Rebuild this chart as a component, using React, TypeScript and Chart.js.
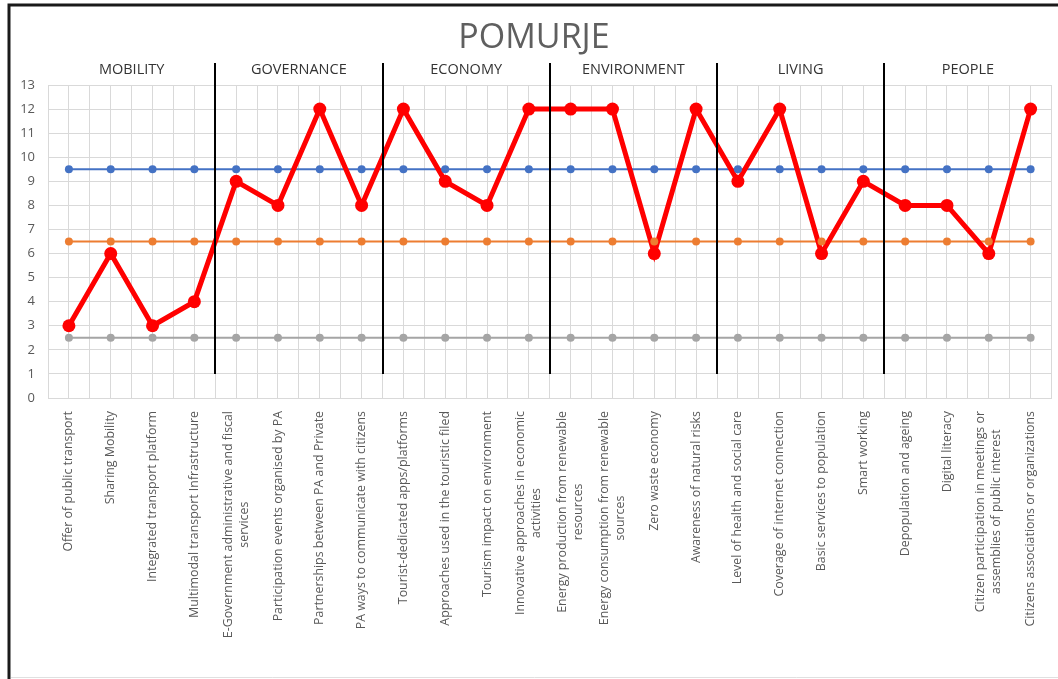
import React, { useEffect, useRef } from 'react';
import { Chart, registerables } from 'chart.js';

Chart.register(...registerables);

const chartTitle = 'POMURJE';

const categories: string[][] = [
  ['Offer of public transport'],
  ['Sharing Mobility'],
  ['Integrated transport platform'],
  ['Multimodal transport Infrastructure'],
  ['E-Government administrative and fiscal', 'services'],
  ['Participation events organised by PA'],
  ['Partnerships between PA and Private'],
  ['PA ways to communicate with citizens'],
  ['Tourist-dedicated apps/platforms'],
  ['Approaches used in the touristic filed'],
  ['Tourism impact on environment'],
  ['Innovative approaches in economic', 'activities'],
  ['Energy production from renewable', 'resources'],
  ['Energy consumption from renewable', 'sources'],
  ['Zero waste economy'],
  ['Awareness of natural risks'],
  ['Level of health and social care'],
  ['Coverage of internet connection'],
  ['Basic services to population'],
  ['Smart working'],
  ['Depopulation and ageing'],
  ['Digital literacy'],
  ['Citizen participation in meetings or', 'assemblies of public interest'],
  ['Citizens associations or organizations'],
];

const groups = ['MOBILITY', 'GOVERNANCE', 'ECONOMY', 'ENVIRONMENT', 'LIVING', 'PEOPLE'];
const groupSize = 4;

const scores = [3, 6, 3, 4, 9, 8, 12, 8, 12, 9, 8, 12, 12, 12, 6, 12, 9, 12, 6, 9, 8, 8, 6, 12];
const upperLevel = [9.5, 9.5, 9.5, 9.5, 9.5, 9.5, 9.5, 9.5, 9.5, 9.5, 9.5, 9.5, 9.5, 9.5, 9.5, 9.5, 9.5, 9.5, 9.5, 9.5, 9.5, 9.5, 9.5, 9.5];
const middleLevel = [6.5, 6.5, 6.5, 6.5, 6.5, 6.5, 6.5, 6.5, 6.5, 6.5, 6.5, 6.5, 6.5, 6.5, 6.5, 6.5, 6.5, 6.5, 6.5, 6.5, 6.5, 6.5, 6.5, 6.5];
const lowerLevel = [2.5, 2.5, 2.5, 2.5, 2.5, 2.5, 2.5, 2.5, 2.5, 2.5, 2.5, 2.5, 2.5, 2.5, 2.5, 2.5, 2.5, 2.5, 2.5, 2.5, 2.5, 2.5, 2.5, 2.5];

const yMin = 0;
const yMax = 13;

const FONT = '"Open Sans", "DejaVu Sans", sans-serif';

const toPoints = (arr: number[]) => arr.map((v, i) => ({ x: i, y: v }));

const decorPlugin = {
  id: 'decor',
  beforeDraw(chart: any) {
    const { ctx, width, height } = chart;
    ctx.save();
    ctx.fillStyle = '#ffffff';
    ctx.fillRect(0, 0, width, height);
    ctx.restore();
  },
  afterDraw(chart: any) {
    const { ctx, chartArea, scales, width } = chart;
    const x = scales.x;
    const y = scales.y;
    ctx.save();

    // frame
    ctx.strokeStyle = '#1a1a1a';
    ctx.lineWidth = 3;
    ctx.beginPath();
    ctx.moveTo(9, chart.height);
    ctx.lineTo(9, 5);
    ctx.lineTo(width, 5);
    ctx.stroke();
    ctx.strokeStyle = '#e0e0e0';
    ctx.lineWidth = 1;
    ctx.beginPath();
    ctx.moveTo(11, chart.height - 1.5);
    ctx.lineTo(width, chart.height - 1.5);
    ctx.stroke();

    // title
    ctx.fillStyle = '#5f5f5f';
    ctx.font = `34px ${FONT}`;
    ctx.textAlign = 'center';
    ctx.textBaseline = 'middle';
    ctx.fillText(chartTitle, width / 2 + 5, 38);

    // separators
    ctx.strokeStyle = '#000000';
    ctx.lineWidth = 2;
    for (let g = 1; g < groups.length; g++) {
      const px = Math.round(x.getPixelForValue(g * groupSize - 0.5));
      ctx.beginPath();
      ctx.moveTo(px, y.getPixelForValue(1));
      ctx.lineTo(px, chartArea.top - 22);
      ctx.stroke();
    }

    // group labels
    ctx.fillStyle = '#333333';
    ctx.font = `14.5px ${FONT}`;
    ctx.textAlign = 'center';
    ctx.textBaseline = 'middle';
    groups.forEach((g, i) => {
      const px = x.getPixelForValue(i * groupSize + (groupSize - 1) / 2);
      ctx.fillText(g, px, chartArea.top - 15);
    });

    // category labels (rotated)
    ctx.fillStyle = '#595959';
    ctx.font = `12.4px ${FONT}`;
    const lineH = 16;
    categories.forEach((lines, i) => {
      const px = x.getPixelForValue(i);
      const maxW = Math.max(...lines.map((l) => ctx.measureText(l).width));
      ctx.save();
      ctx.translate(px, chartArea.bottom + 13);
      ctx.rotate(-Math.PI / 2);
      ctx.textAlign = 'center';
      ctx.textBaseline = 'middle';
      lines.forEach((l, j) => {
        const off = (j - (lines.length - 1) / 2) * lineH;
        ctx.fillText(l, -maxW / 2, off);
      });
      ctx.restore();
    });

    ctx.restore();
  },
};

export default function App() {
  const canvasRef = useRef<HTMLCanvasElement | null>(null);

  useEffect(() => {
    document.body.style.margin = '0';
    const canvas = canvasRef.current;
    if (!canvas) return;

    const lineOnly = (data: number[], color: string) => ({
      data: toPoints(data),
      borderColor: color,
      backgroundColor: color,
      borderWidth: 2,
      pointRadius: 0,
      tension: 0,
      order: 5,
    });
    const pointsOnly = (data: number[], color: string) => ({
      data: toPoints(data),
      borderColor: color,
      backgroundColor: color,
      showLine: false,
      pointRadius: 4,
      pointBorderWidth: 0,
      pointBackgroundColor: color,
      order: 1,
    });

    const chart = new Chart(canvas, {
      type: 'line',
      data: {
        datasets: [
          lineOnly(upperLevel, '#4472C4'),
          lineOnly(middleLevel, '#ED7D31'),
          lineOnly(lowerLevel, '#A5A5A5'),
          {
            data: toPoints(scores),
            borderColor: '#FF0000',
            backgroundColor: '#FF0000',
            borderWidth: 5,
            pointRadius: 6.5,
            pointBorderWidth: 0,
            pointBackgroundColor: '#FF0000',
            tension: 0,
            order: 3,
          },
          pointsOnly(upperLevel, '#4472C4'),
          pointsOnly(middleLevel, '#ED7D31'),
          pointsOnly(lowerLevel, '#A5A5A5'),
        ] as any,
      },
      options: {
        animation: false,
        responsive: false,
        maintainAspectRatio: false,
        layout: { padding: { top: 85, right: 2, bottom: 0, left: 0 } },
        plugins: {
          legend: { display: false },
          title: { display: false },
          tooltip: { enabled: false },
        },
        scales: {
          x: {
            type: 'linear',
            min: -0.5,
            max: 23.5,
            ticks: { display: false, stepSize: 0.5, maxTicksLimit: 200 },
            grid: { color: '#d9d9d9', drawTicks: false, lineWidth: 1 },
            border: { color: '#d9d9d9' },
            afterFit: (scale: any) => {
              scale.height = 281;
            },
          },
          y: {
            min: yMin,
            max: yMax,
            ticks: {
              stepSize: 1,
              color: '#595959',
              font: { family: FONT, size: 13 },
              padding: 13,
            },
            grid: { color: '#d9d9d9', drawTicks: false },
            border: { color: '#d9d9d9' },
            afterFit: (scale: any) => {
              scale.width = 48;
            },
          },
        },
      } as any,
      plugins: [decorPlugin],
    });

    return () => chart.destroy();
  }, []);

  return (
    <div style={{ width: 1058, height: 679 }}>
      <canvas ref={canvasRef} width={1058} height={679} style={{ display: 'block' }} />
    </div>
  );
}
